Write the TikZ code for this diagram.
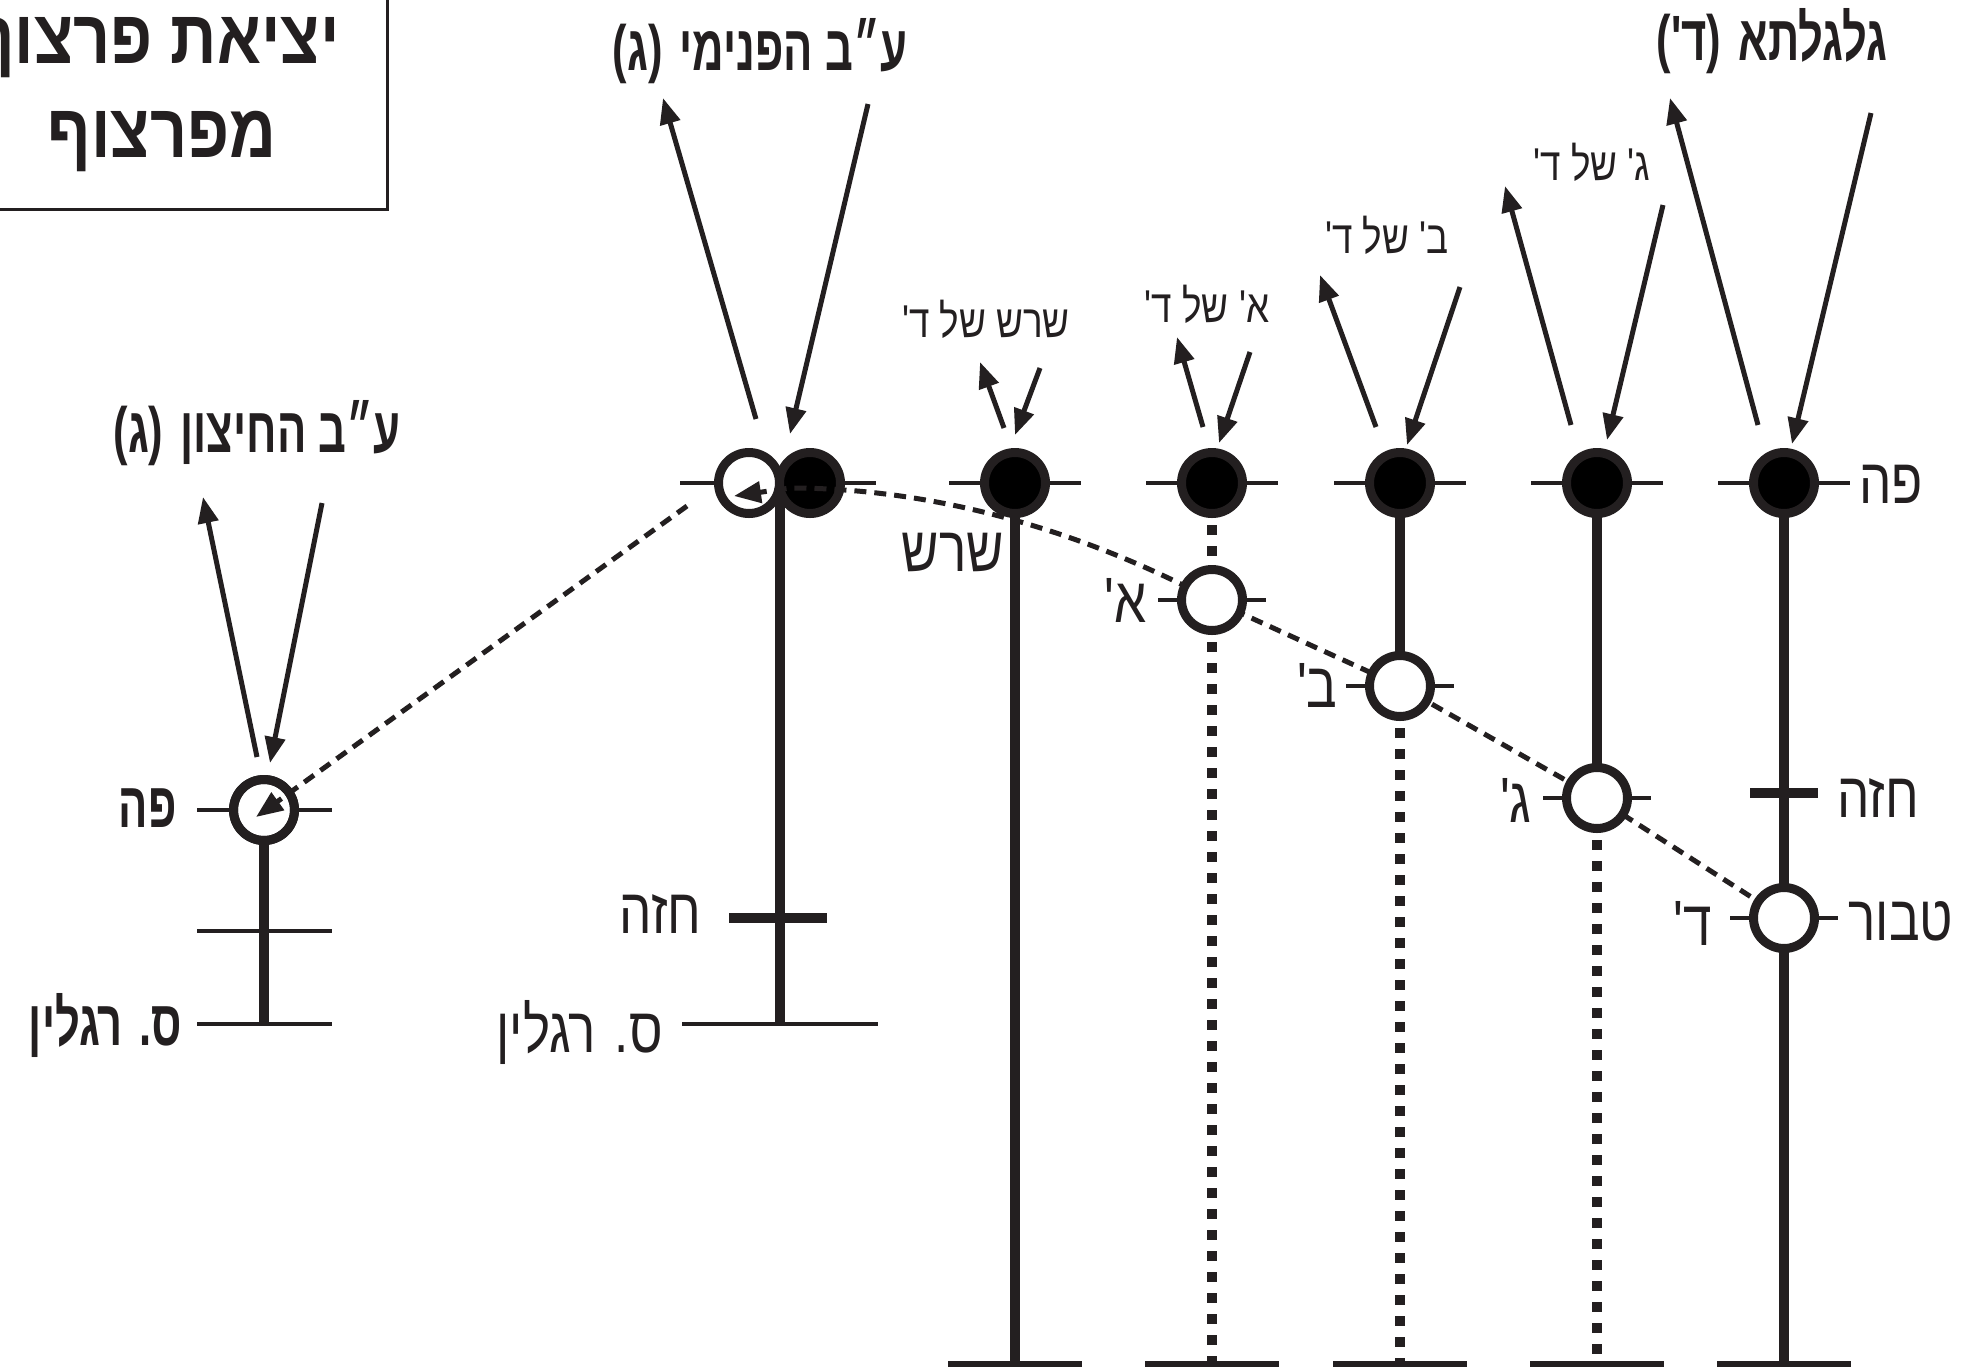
\documentclass[tikz,border=0pt]{standalone}
\usepackage{fontspec}
\usetikzlibrary{arrows.meta}
\TeXXeTstate=1
\newfontfamily\hebB[Script=Hebrew,FakeStretch=0.68]{Liberation Sans Bold}
\newfontfamily\hebT[Script=Hebrew,FakeStretch=0.85]{Liberation Sans Bold}
\newfontfamily\hebL[Script=Hebrew,FakeStretch=0.8]{Liberation Sans}
\definecolor{ink}{RGB}{35,31,32}
\newcommand{\hebtxt}[1]{\beginR #1\endR}
\newcommand{\pgap}{\hspace{0.27em}}
\begin{document}
\begin{tikzpicture}[x=0.5pt,y=-0.5pt,
  vline/.style={draw=ink,line width=5pt},
  dotline/.style={draw=ink,line width=5pt,dash pattern=on 5pt off 5.5pt},
  tick/.style={draw=ink,line width=2.4pt},
  chest/.style={draw=ink,line width=5pt},
  footline/.style={draw=ink,line width=3pt},
  ray/.style={draw=ink,line width=2.5pt,-{Triangle[length=13pt,width=10pt]}},
  conn/.style={draw=ink,line width=2.5pt,dash pattern=on 6pt off 4pt,-{Triangle[length=13.5pt,width=10.5pt]}},
  opencirc/.style={circle,draw=ink,line width=4.5pt,fill=white,minimum size=30.5pt,inner sep=0pt},
  fullcirc/.style={circle,draw=ink,line width=4.5pt,fill=black,minimum size=30.5pt,inner sep=0pt},
  ring/.style={circle,draw=ink,line width=4.5pt,minimum size=30.5pt,inner sep=0pt},
  boldlab/.style={font=\hebB\fontsize{32}{36}\selectfont,text=ink,inner sep=0pt},
  lightlab/.style={font=\hebL\fontsize{32}{36}\selectfont,text=ink,inner sep=0pt},
  smalllab/.style={font=\hebL\fontsize{23}{26}\selectfont,text=ink,inner sep=0pt},
  titlelab/.style={font=\hebT\fontsize{38}{42}\selectfont,text=ink,inner sep=0pt},
]
\useasboundingbox (0,0) rectangle (1972,1367);
\clip (0,0) rectangle (1972,1367);
\fill[white] (0,0) rectangle (1972,1367);

% ---- coordinates
\coordinate (Lc) at (264,810);
\coordinate (Lch) at (264,931);
\coordinate (Lft) at (264,1024);
\coordinate (Ic) at (780,483);
\coordinate (Ich) at (780,918);
\coordinate (Ift) at (780,1024);
\coordinate (Sc) at (1015,483);  \coordinate (Sft) at (1015,1364);
\coordinate (Ac0) at (1212,483); \coordinate (Ac) at (1212,600); \coordinate (Aft) at (1212,1364);
\coordinate (Bc0) at (1400,483); \coordinate (Bc) at (1400,686); \coordinate (Bft) at (1400,1364);
\coordinate (Gc0) at (1597,483); \coordinate (Gc) at (1597,798); \coordinate (Gft) at (1597,1364);
\coordinate (Dc0) at (1784,483); \coordinate (Dch) at (1784,793); \coordinate (Dc) at (1784,918); \coordinate (Dft) at (1784,1364);

% ---- title box
\draw[ink,line width=1.5pt] (-20,-20) rectangle (387,209);
\node[titlelab,anchor=base east] (t1) at (340,63) {\hebtxt{יציאת פרצוף}};
\node[titlelab,anchor=base] (t2) at (162,157) {\hebtxt{מפרצוף}};

% ---- vertical lines
\draw[vline] (Lc) -- (Lft);
\draw[vline] (Ic) -- (Ift);
\draw[vline] (Sc) -- (Sft);
\draw[dotline] (Ac0) -- (Ac);
\draw[dotline] (Ac) -- (Aft);
\draw[vline] (Bc0) -- (Bc);
\draw[dotline] (Bc) -- (Bft);
\draw[vline] (Gc0) -- (Gc);
\draw[dotline] (Gc) -- (Gft);
\draw[vline] (Dc0) -- (Dft);

% ---- ticks
\draw[tick] (Lc) ++(-67,0) -- ++(135,0);
\draw[tick] (Lch) ++(-67,0) -- ++(135,0);
\draw[tick] (Lft) ++(-67,0) -- ++(135,0);
\draw[tick] (Ic) ++(-100,0) -- ++(196,0);
\draw[chest] (Ich) ++(-51,0) -- ++(98,0);
\draw[tick] (Ift) ++(-98,0) -- ++(196,0);
\foreach \c in {Sc,Ac0,Bc0,Gc0,Dc0} \draw[tick] (\c) ++(-66,0) -- ++(132,0);
\foreach \c in {Ac,Bc,Gc,Dc} \draw[tick] (\c) ++(-54,0) -- ++(108,0);
\draw[chest] (Dch) ++(-34,0) -- ++(68,0);
\foreach \c in {Sft,Aft,Bft,Gft,Dft} \draw[footline] (\c) ++(-67,0) -- ++(134,0);

% ---- rays
\draw[ray] (257,757) -- (203,497);
\draw[ray] (322,503) -- (270,763);
\draw[ray] (756,419) -- (663,98);
\draw[ray] (868,104) -- (790,434);
\draw[ray] (1004,428) -- (980,362);
\draw[ray] (1040,368) -- (1015,435);
\draw[ray] (1203,427) -- (1177,337);
\draw[ray] (1250,352) -- (1219,443);
\draw[ray] (1376,427) -- (1320,275);
\draw[ray] (1460,287) -- (1407,445);
\draw[ray] (1571,425) -- (1505,186);
\draw[ray] (1663,205) -- (1607,440);
\draw[ray] (1758,425) -- (1670,98);
\draw[ray] (1871,113) -- (1792,444);

% ---- circles (lower layer)
\node[opencirc] (Lpe) at (Lc) {};
\node[opencirc] (Iopen) at (749,483) {};
\node[fullcirc] (Ifull) at (810,483) {};
\node[fullcirc] (Spe) at (Sc) {};
\node[fullcirc] (Ape) at (Ac0) {};
\node[fullcirc] (Bpe) at (Bc0) {};
\node[fullcirc] (Gpe) at (Gc0) {};
\node[fullcirc] (Dpe) at (Dc0) {};

% ---- dashed connectors
\draw[conn] (Dc) -- (Gc) -- (Bc) -- (Ac) .. controls (1100,540) and (950,488) .. (790,488) -- (734,496);
\coordinate (Lstart) at (687,506);
\draw[conn] (Lstart) -- (256,817);

% ---- circles (upper layer)
\node[opencirc] (A) at (Ac) {};
\node[opencirc] (B) at (Bc) {};
\node[opencirc] (G) at (Gc) {};
\node[opencirc] (D) at (Dc) {};
\node[ring] (Lring) at (Lc) {};

% ---- labels
\node[boldlab,anchor=base] (lab1) at (257,452) {\hebtxt{ע״ב החיצון\pgap(ג)}};
\node[boldlab,anchor=base] (lab2) at (760,70) {\hebtxt{ע״ב הפנימי\pgap(ג)}};
\node[boldlab,anchor=base] (lab3) at (1772,60) {\hebtxt{גלגלתא\pgap(ד')}};
\node[smalllab,anchor=base] (lab4) at (986,337) {\hebtxt{שרש של ד'}};
\node[smalllab,anchor=base] (lab5) at (1207,322) {\hebtxt{א' של ד'}};
\node[smalllab,anchor=base] (lab6) at (1387,253) {\hebtxt{ב' של ד'}};
\node[smalllab,anchor=base] (lab7) at (1592,180) {\hebtxt{ג' של ד'}};
\node[boldlab,anchor=base east] (lab8) at (177,827) {\hebtxt{פה}};
\node[boldlab,anchor=base east] (lab9) at (182,1045) {\hebtxt{ס. רגלין}};
\node[lightlab,anchor=base east] (lab10) at (702,933) {\hebtxt{חזה}};
\node[lightlab,anchor=base east] (lab11) at (663,1052) {\hebtxt{ס. רגלין}};
\node[lightlab,anchor=base] (lab12) at (953,571) {\hebtxt{שרש}};
\node[lightlab,anchor=base east] (lab13) at (1147,622) {\hebtxt{א'}};
\node[lightlab,anchor=base east] (lab14) at (1338,707) {\hebtxt{ב'}};
\node[lightlab,anchor=base east] (lab15) at (1532,822) {\hebtxt{ג'}};
\node[lightlab,anchor=base east] (lab16) at (1712,945) {\hebtxt{ד'}};
\node[lightlab,anchor=base west] (lab17) at (1859,503) {\hebtxt{פה}};
\node[lightlab,anchor=base west] (lab18) at (1837,817) {\hebtxt{חזה}};
\node[lightlab,anchor=base west] (lab19) at (1848,940) {\hebtxt{טבור}};
\end{tikzpicture}
\end{document}
